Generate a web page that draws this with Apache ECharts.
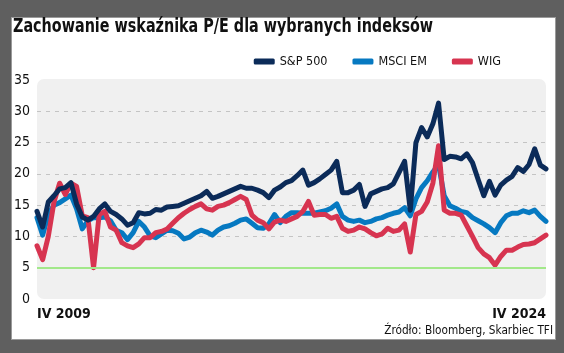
<!DOCTYPE html>
<html>
<head>
<meta charset="utf-8">
<script src="https://cdn.jsdelivr.net/npm/echarts@6/dist/echarts.min.js"></script>
<style>
html, body { margin: 0; padding: 0; background: #5f5f5f; }
#wrap { position: relative; width: 564px; height: 353px; }
#card { position: absolute; left: 11px; top: 17px; width: 543px; height: 321px; background: #fff; border: 1px solid #9a9a9a; }
#plotbg { position: absolute; left: 37px; top: 79px; width: 509px; height: 220px; background: #f0f0f0; border-radius: 7px; }
#chart { position: absolute; left: 0; top: 0; width: 564px; height: 353px; }
</style>
</head>
<body>
<div id="wrap">
    <div id="card"></div>
    <div id="plotbg"></div>
    <div id="chart"></div>
</div>
<script>
// dane: co dwa miesiace, IV 2009 - IV 2024
var months = [];
for (var y = 2009, m = 4; y < 2024 || (y === 2024 && m <= 4); m += 2) {
    if (m > 12) { m -= 12; y++; if (y > 2024 || (y === 2024 && m > 4)) break; }
    months.push(y + '-' + (m < 10 ? '0' + m : m));
}
var tickLabels = ['IV 2009', 'IV 2024'];

var sp500 = [14, 11.5, 15.5, 16.5, 17.6, 17.8, 18.6, 15.2, 13.1, 12.6,
    13.2, 14.4, 15.2, 14, 13.5, 12.8, 11.8, 12.2, 13.8, 13.6,
    13.7, 14.3, 14.2, 14.7, 14.8, 14.9, 15.3, 15.7, 16.1, 16.5,
    17.2, 16.1, 16.4, 16.8, 17.2, 17.6, 18, 17.7, 17.7, 17.4,
    17, 16.2, 17.4, 17.9, 18.6, 18.9, 19.7, 20.6, 18.2, 18.6,
    19.2, 19.9, 20.6, 22, 17, 17, 17.4, 18.3, 14.8, 16.8,
    17.2, 17.6, 17.8, 18.4, 20.2, 22, 14.2, 25, 27.4, 25.9,
    28, 31.3, 22.3, 22.8, 22.7, 22.4, 23.2, 21.8, 19.1, 16.5,
    18.8, 16.6, 18.2, 19, 19.6, 21, 20.4, 21.5, 24, 21.4, 20.8];

var msciEm = [13, 10.2, 13.5, 15, 15.4, 16, 16.6, 14.4, 11.2, 12.5,
    13, 13, 13.1, 12.5, 11, 10.6, 9.5, 10.6, 12.4, 11.5,
    10.1, 9.8, 10.4, 11, 10.9, 10.5, 9.6, 9.9, 10.6, 11,
    10.7, 10.2, 11, 11.5, 11.7, 12.1, 12.6, 12.8, 12.1, 11.4,
    11.3, 12, 13.5, 12.2, 13.2, 13.8, 13.8, 13.7, 13.7, 13.7,
    13.9, 14.1, 14.5, 15.2, 13.2, 12.6, 12.4, 12.6, 12.2, 12.4,
    12.8, 13, 13.4, 13.7, 13.9, 14.6, 13.3, 16, 17.8, 18.9,
    20.3, 21.5, 16.5, 14.9, 14.5, 14, 13.8, 13, 12.5, 12,
    11.4, 10.6, 12.2, 13.3, 13.7, 13.7, 14.1, 13.8, 14.2, 13.2, 12.4];

var wig = [8.5, 6.3, 10, 15.5, 18.5, 16.7, 18.5, 18, 13.3, 13,
    5, 13.5, 14, 11.5, 11, 9, 8.5, 8.2, 8.8, 9.8,
    9.8, 10.6, 10.8, 11.2, 12.1, 13, 13.7, 14.3, 14.8, 15.2,
    14.4, 14.2, 14.8, 15, 15.4, 15.9, 16.4, 15.9, 13.4, 12.6,
    12.2, 11.2, 12.3, 12.6, 12.4, 12.8, 13.2, 14, 15.6, 13.4,
    13.5, 13.5, 12.9, 13.2, 11.3, 10.8, 11, 11.5, 11.2, 10.6,
    10.1, 10.4, 11.3, 10.8, 11, 12, 7.5, 13.5, 14, 15.5,
    18.5, 24.5, 14.2, 13.7, 13.7, 13.4, 11.7, 10, 8.2, 7.2,
    6.6, 5.4, 6.8, 7.8, 7.8, 8.3, 8.7, 8.8, 9, 9.6, 10.2];

var font = '"DejaVu Sans Condensed", sans-serif';
var myChart = echarts.init(document.getElementById('chart'));
var last = months.length - 1;

var option = {
    graphic: {
        elements: [
            {
                type: 'text', x: 13, y: 18, scaleX: 0.84, originX: 0,
                style: {
                    text: 'Zachowanie wskaźnika P/E dla wybranych indeksów',
                    font: 'bold 19px "DejaVu Sans Condensed", sans-serif',
                    fill: '#111'
                }
            },
            {
                type: 'text', x: 553, y: 324, scaleX: 0.9, originX: 0,
                style: {
                    text: 'Źródło: Bloomberg, Skarbiec TFI',
                    font: '13px "DejaVu Sans Condensed", sans-serif',
                    fill: '#111',
                    textAlign: 'right'
                }
            }
        ]
    },
    legend: {
        right: 58, top: 50,
        icon: 'roundRect',
        itemWidth: 21, itemHeight: 6,
        itemGap: 25,
        textStyle: { fontFamily: font, fontSize: 12.5, color: '#111' },
        data: ['S&P 500', 'MSCI EM', 'WIG']
    },
    grid: { left: 37, right: 18, top: 80, bottom: 54 },
    xAxis: {
        type: 'category',
        boundaryGap: false,
        data: months,
        axisLine: { show: false },
        axisTick: { show: false },
        axisLabel: {
            interval: function (i) { return i === 0 || i === last; },
            formatter: function (v, i) { return i === 0 ? tickLabels[0] : tickLabels[1]; },
            alignMinLabel: 'left',
            alignMaxLabel: 'right',
            fontFamily: font, fontSize: 14, fontWeight: 'bold', color: '#111',
            margin: 8
        }
    },
    yAxis: {
        type: 'value',
        min: 0, max: 35, interval: 5,
        axisLine: { show: false },
        axisTick: { show: false },
        axisLabel: { fontFamily: font, fontSize: 14, color: '#111', margin: 7 },
        splitLine: {
            showMinLine: false,
            showMaxLine: false,
            lineStyle: { color: '#c4c4c4', type: [4, 5], width: 1 }
        }
    },
    series: [
        {
            name: 'MSCI EM', type: 'line', data: msciEm, showSymbol: false, z: 2,
            itemStyle: { color: '#0679c1' },
            lineStyle: { color: '#0679c1', width: 5, cap: 'round', join: 'round' },
            markLine: {
                silent: true, symbol: 'none',
                label: { show: false },
                lineStyle: { color: '#a2e88a', width: 2, type: 'solid' },
                data: [{ yAxis: 5 }]
            }
        },
        {
            name: 'WIG', type: 'line', data: wig, showSymbol: false, z: 3,
            itemStyle: { color: '#d73450' },
            lineStyle: { color: '#d73450', width: 5, cap: 'round', join: 'round' }
        },
        {
            name: 'S&P 500', type: 'line', data: sp500, showSymbol: false, z: 4,
            itemStyle: { color: '#0b2b59' },
            lineStyle: { color: '#0b2b59', width: 5, cap: 'round', join: 'round' }
        }
    ]
};
myChart.setOption(option);
</script>
</body>
</html>
